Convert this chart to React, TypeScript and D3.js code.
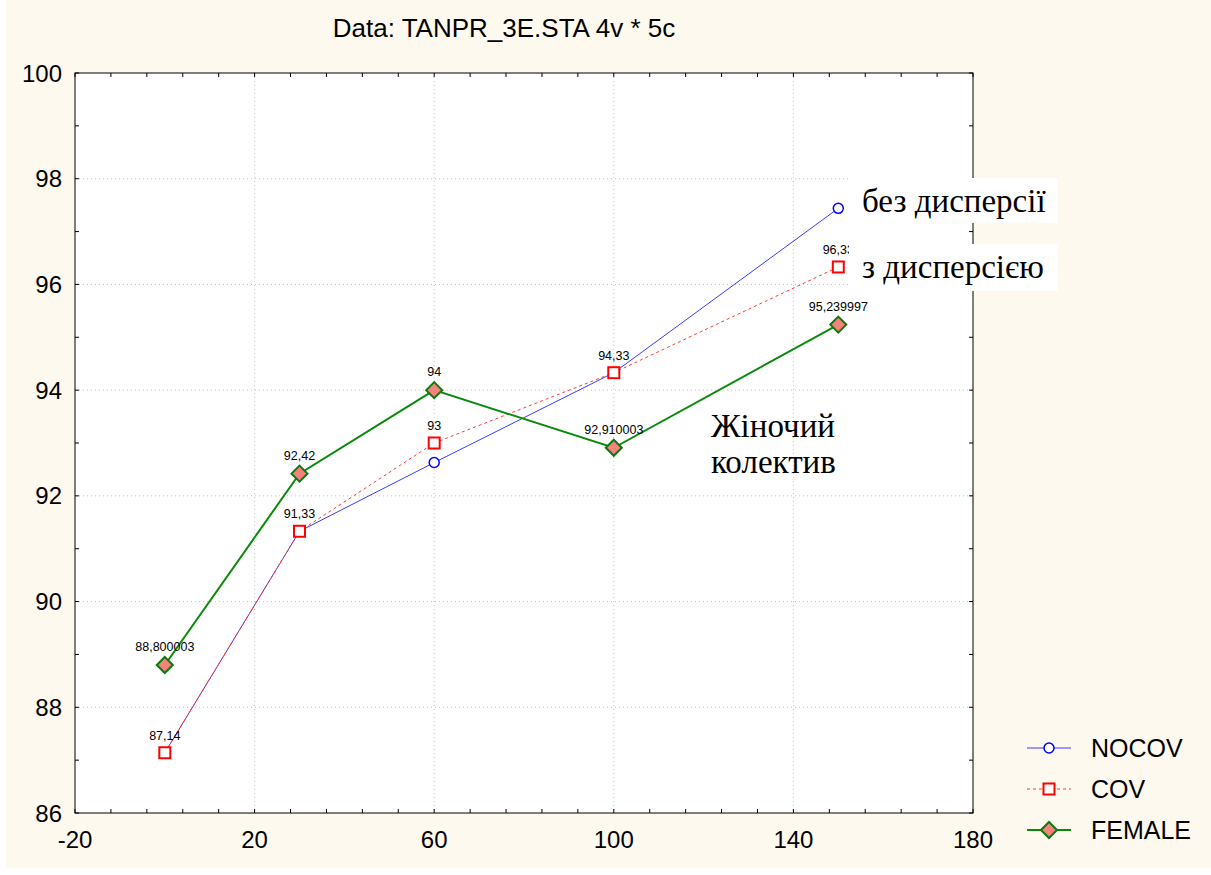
import React from "react";
import * as d3 from "d3";

const xValues = [0, 30, 60, 100, 150];
const nocov = [87.14, 91.33, 92.63, 94.33, 97.44];
const cov = [87.14, 91.33, 93, 94.33, 96.33];
const female = [88.800003, 92.42, 94, 92.910003, 95.239997];
const covLabels = ["87,14", "91,33", "93", "94,33", "96,33"];
const femaleLabels = ["88,800003", "92,42", "94", "92,910003", "95,239997"];
const xTicks = [-20, 20, 60, 100, 140, 180];
const yTicks = [86, 88, 90, 92, 94, 96, 98, 100];
const seriesNames = ["NOCOV", "COV", "FEMALE"];
const title = "Data: TANPR_3E.STA 4v * 5c";

const W = 1211, H = 875;
const L = 75, R = 973, T = 73, B = 813;
const BG = "#fdf9ee";
const sans = "'Liberation Sans', Arial, sans-serif";
const serif = "'Liberation Serif', 'Times New Roman', serif";

export default function App() {
  const x = d3.scaleLinear().domain([-20, 180]).range([L, R]);
  const y = d3.scaleLinear().domain([86, 100]).range([B, T]);
  const line = d3.line<number>().x((_, i) => x(xValues[i])).y((d) => y(d));
  const xMinor = d3.range(-20, 180.001, 8);
  const yMinor = d3.range(86, 100.001, 1);

  const diamond = (cx: number, cy: number, r: number) =>
    `M${cx},${cy - r}L${cx + r},${cy}L${cx},${cy + r}L${cx - r},${cy}Z`;

  const legendY = [748, 789, 830];

  return (
    <div style={{ position: "absolute", left: 0, top: 0, width: W, height: H, background: "#fff" }}>
      <svg width={W} height={H} style={{ display: "block" }}>
        <rect x={6} y={0} width={W - 6} height={868} fill={BG} />
        <text x={504} y={37} textAnchor="middle" fontFamily={sans} fontSize={26} fill="#000">{title}</text>
        <rect x={L} y={T} width={R - L} height={B - T} fill="#fff" />
        {/* grid */}
        {xTicks.slice(1, -1).map((t) => (
          <line key={"gx" + t} x1={x(t)} x2={x(t)} y1={T} y2={B} stroke="#c4c4c4" strokeWidth={1} strokeDasharray="1,3" />
        ))}
        {yTicks.slice(1, -1).map((t) => (
          <line key={"gy" + t} x1={L} x2={R} y1={y(t)} y2={y(t)} stroke="#c4c4c4" strokeWidth={1} strokeDasharray="1,3" />
        ))}
        {/* frame */}
        <rect x={L} y={T} width={R - L} height={B - T} fill="none" stroke="#000" strokeWidth={1} />
        {/* ticks */}
        {xMinor.map((t) => (
          <g key={"tx" + t}>
            <line x1={x(t)} x2={x(t)} y1={B} y2={B - 4} stroke="#000" />
            <line x1={x(t)} x2={x(t)} y1={T} y2={T + 4} stroke="#000" />
          </g>
        ))}
        {yMinor.map((t) => (
          <g key={"ty" + t}>
            <line x1={L} x2={L + 4} y1={y(t)} y2={y(t)} stroke="#000" />
            <line x1={R} x2={R - 4} y1={y(t)} y2={y(t)} stroke="#000" />
          </g>
        ))}
        {/* tick labels */}
        {xTicks.map((t) => (
          <text key={"lx" + t} x={x(t)} y={848} textAnchor="middle" fontFamily={sans} fontSize={24} fill="#000">{t}</text>
        ))}
        {yTicks.map((t) => (
          <text key={"ly" + t} x={62} y={y(t) + 8.5} textAnchor="end" fontFamily={sans} fontSize={24} fill="#000">{t}</text>
        ))}
        {/* series lines */}
        <path d={line(nocov) || ""} fill="none" stroke="#3a3aff" strokeWidth={1} />
        <path d={line(cov) || ""} fill="none" stroke="#ff3a3a" strokeWidth={1} strokeDasharray="3,3" />
        <path d={line(female) || ""} fill="none" stroke="#0a8a0a" strokeWidth={2} />
        {/* markers */}
        {nocov.map((v, i) => (
          <circle key={"mn" + i} cx={x(xValues[i])} cy={y(v)} r={5} fill="#fff" stroke="#0000ff" strokeWidth={1.5} />
        ))}
        {cov.map((v, i) => (
          <rect key={"mc" + i} x={x(xValues[i]) - 5.5} y={y(v) - 5.5} width={11} height={11} fill="#fff" stroke="#ff0000" strokeWidth={2} />
        ))}
        {female.map((v, i) => (
          <path key={"mf" + i} d={diamond(x(xValues[i]), y(v), 8)} fill="#f4837d" stroke="#0a7a0a" strokeWidth={2} />
        ))}
        {/* value labels */}
        {cov.map((v, i) => (
          <text key={"vc" + i} x={x(xValues[i])} y={y(v) - 13} textAnchor="middle" fontFamily={sans} fontSize={12.5} fill="#000">{covLabels[i]}</text>
        ))}
        {female.map((v, i) => (
          <text key={"vf" + i} x={x(xValues[i])} y={y(v) - 14} textAnchor="middle" fontFamily={sans} fontSize={12.5} fill="#000">{femaleLabels[i]}</text>
        ))}
        {/* annotations */}
        <rect x={849} y={178} width={209} height={45} fill="#fff" />
        <text x={862} y={212} fontFamily={serif} fontSize={33} fill="#000">без дисперсії</text>
        <rect x={849} y={244} width={209} height={47} fill="#fff" />
        <text x={862} y={278} fontFamily={serif} fontSize={33} fill="#000">з дисперсією</text>
        <text x={711} y={437} fontFamily={serif} fontSize={33} fill="#000">Жіночий</text>
        <text x={711} y={473} fontFamily={serif} fontSize={33} fill="#000">колектив</text>
        {/* legend */}
        <g>
          <line x1={1027} x2={1071} y1={legendY[0]} y2={legendY[0]} stroke="#3a3aff" strokeWidth={1} />
          <circle cx={1049} cy={legendY[0]} r={5} fill="#fff" stroke="#0000ff" strokeWidth={1.5} />
          <line x1={1027} x2={1071} y1={legendY[1]} y2={legendY[1]} stroke="#ff3a3a" strokeWidth={1} strokeDasharray="3,3" />
          <rect x={1043.5} y={legendY[1] - 5.5} width={11} height={11} fill="#fff" stroke="#ff0000" strokeWidth={2} />
          <line x1={1027} x2={1071} y1={legendY[2]} y2={legendY[2]} stroke="#0a8a0a" strokeWidth={2} />
          <path d={diamond(1049, legendY[2], 8)} fill="#f4837d" stroke="#0a7a0a" strokeWidth={2} />
          {seriesNames.map((n, i) => (
            <text key={n} x={1091} y={legendY[i] + 9} fontFamily={sans} fontSize={25} fill="#000">{n}</text>
          ))}
        </g>
      </svg>
    </div>
  );
}
